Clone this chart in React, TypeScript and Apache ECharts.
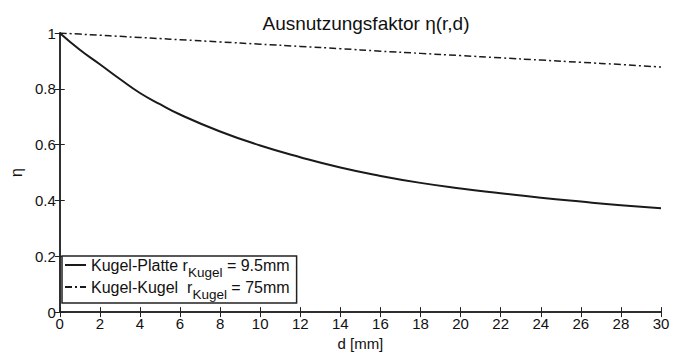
import React, { useEffect, useRef } from "react";
import * as echarts from "echarts";

const dValues = [0, 1, 2, 3, 4, 5, 6, 8, 10, 12, 14, 16, 18, 20, 22, 24, 26, 28, 30];
const plattePoints = [1.0, 0.94, 0.888, 0.835, 0.785, 0.745, 0.708, 0.647, 0.597, 0.555, 0.518, 0.488, 0.463, 0.443, 0.426, 0.41, 0.396, 0.383, 0.372];
const kugelPoints = [1.0, 0.996, 0.992, 0.988, 0.984, 0.98, 0.976, 0.968, 0.96, 0.952, 0.944, 0.935, 0.927, 0.919, 0.911, 0.903, 0.895, 0.887, 0.878];
const xTicks = [0, 30, 2];
const yTicks = [0, 1, 0.2];
const seriesNames = ["Kugel-Platte", "Kugel-Kugel"];
const legendTexts = ["{a|Kugel-Platte r}{s|Kugel}{a| = 9.5mm}", "{a|Kugel-Kugel  r}{s|Kugel}{a| = 75mm}"];

const FONT = "Liberation Sans, Arial, sans-serif";

export default function App() {
  const ref = useRef<HTMLDivElement>(null);
  useEffect(() => {
    if (!ref.current) return;
    const chart = echarts.init(ref.current, undefined, { renderer: "svg" });
    const axisCommon = {
      axisLine: { show: true, lineStyle: { color: "#222", width: 1.5 } },
      axisTick: { show: true, inside: true, length: 5, lineStyle: { color: "#222", width: 1 } },
      splitLine: { show: false },
    };
    chart.setOption({
      animation: false,
      textStyle: { fontFamily: FONT },
      title: {
        text: "Ausnutzungsfaktor η(r,d)",
        left: 361,
        textAlign: "center",
        top: 9,
        textStyle: { fontFamily: FONT, fontSize: 19, fontWeight: "normal", color: "#111" },
      },
      grid: { left: 58, right: 25, top: 33, bottom: 39 },
      legend: {
        orient: "vertical",
        left: 62,
        top: 256,
        itemWidth: 21,
        itemHeight: 10,
        itemGap: 0,
        padding: [1, 7, 2, 2],
        borderColor: "#222",
        borderWidth: 1.5,
        backgroundColor: "#fff",
        itemStyle: { color: "rgba(0,0,0,0)", borderColor: "rgba(0,0,0,0)", borderWidth: 0, opacity: 0 },
        data: seriesNames,
        formatter: (name: string) => legendTexts[seriesNames.indexOf(name)],
        textStyle: {
          fontFamily: FONT,
          color: "#111",
          rich: {
            a: { fontFamily: FONT, fontSize: 16, color: "#111", lineHeight: 28, verticalAlign: "middle" },
            s: { fontFamily: FONT, fontSize: 13.5, color: "#111", verticalAlign: "bottom" },
          },
        },
      },
      xAxis: [
        {
          type: "value",
          min: xTicks[0],
          max: xTicks[1],
          interval: xTicks[2],
          position: "bottom",
          name: "d [mm]",
          nameLocation: "middle",
          nameGap: 20,
          nameTextStyle: { fontFamily: FONT, fontSize: 15, color: "#111" },
          axisLabel: { fontFamily: FONT, fontSize: 15, color: "#111", margin: 4 },
          ...axisCommon,
        },
        {
          type: "value",
          min: xTicks[0],
          max: xTicks[1],
          interval: xTicks[2],
          position: "top",
          axisLabel: { show: false },
          ...axisCommon,
        },
      ],
      yAxis: [
        {
          type: "value",
          min: yTicks[0],
          max: yTicks[1],
          interval: yTicks[2],
          position: "left",
          name: "η",
          nameLocation: "middle",
          nameGap: 28,
          nameTextStyle: { fontFamily: FONT, fontSize: 16, color: "#111" },
          axisLabel: { fontFamily: FONT, fontSize: 15, color: "#111", margin: 4 },
          ...axisCommon,
        },
        {
          type: "value",
          min: yTicks[0],
          max: yTicks[1],
          interval: yTicks[2],
          position: "right",
          axisLabel: { show: false },
          ...axisCommon,
        },
      ],
      series: [
        {
          name: seriesNames[0],
          type: "line",
          data: dValues.map((d, i) => [d, plattePoints[i]]),
          smooth: true,
          showSymbol: false,
          symbol: "none",
          lineStyle: { color: "#1a1a1a", width: 2 },
          itemStyle: { color: "#1a1a1a" },
        },
        {
          name: seriesNames[1],
          type: "line",
          data: dValues.map((d, i) => [d, kugelPoints[i]]),
          smooth: true,
          showSymbol: false,
          symbol: "none",
          lineStyle: { color: "#1a1a1a", width: 1.5, type: [7, 3, 2, 3] },
          itemStyle: { color: "#1a1a1a" },
        },
      ],
    });
    return () => chart.dispose();
  }, []);
  return <div ref={ref} style={{ width: 686, height: 356, position: "absolute", left: 0, top: 0 }} />;
}
